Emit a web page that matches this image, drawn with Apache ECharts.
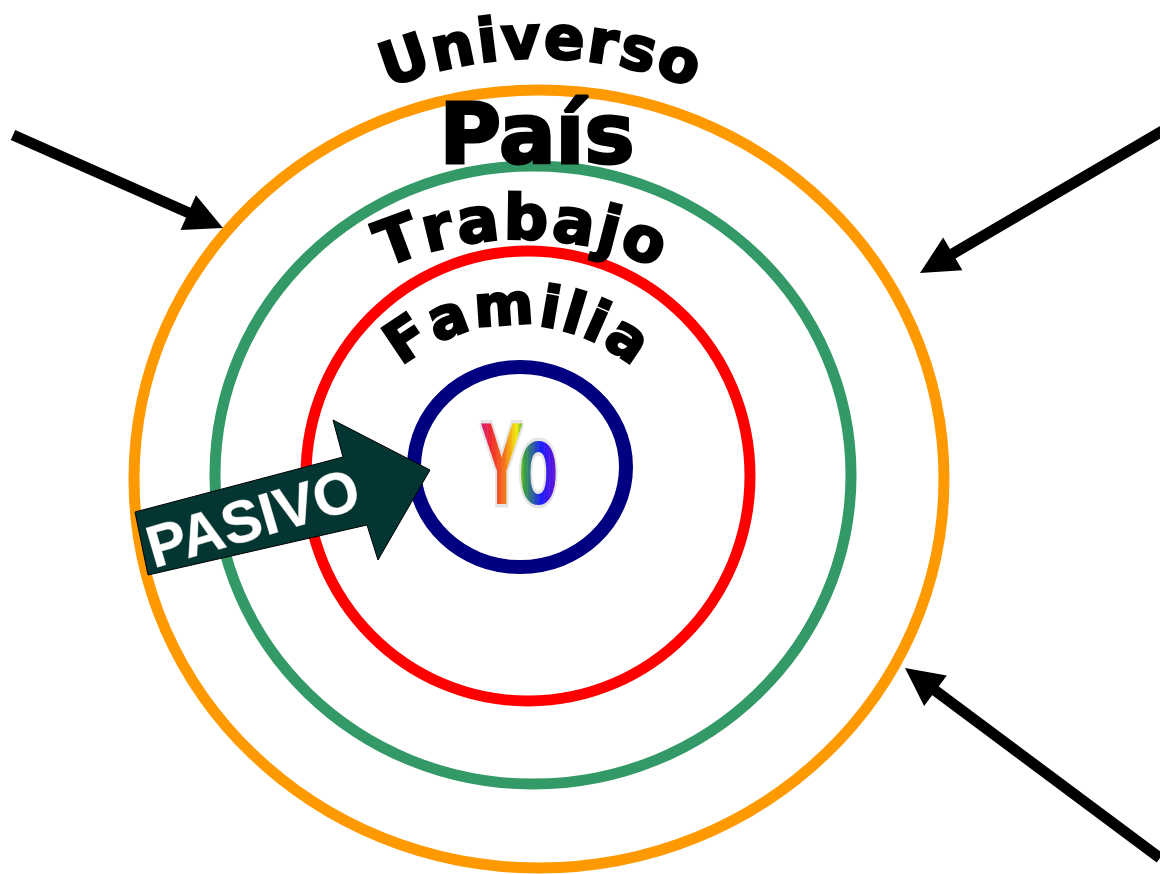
<!DOCTYPE html>
<html>
<head>
<meta charset="utf-8">
<title>Yo - Universo</title>
<script src="https://cdn.jsdelivr.net/npm/echarts@6/dist/echarts.min.js"></script>
<style>
  html, body { margin: 0; padding: 0; background: #fff; }
  #chart { width: 1160px; height: 874px; }
</style>
</head>
<body>
<div id="chart"></div>
<script>
// textos del diagrama
var ringNames = ['Universo', 'País', 'Trabajo', 'Familia'];
var centerName = 'Yo';
var arrowName = 'PASIVO';

var FONT = '"DejaVu Sans", "Liberation Sans", sans-serif';
var YO_FONT = 'bold 116px "Liberation Sans", sans-serif';
var measureCtx = document.createElement('canvas').getContext('2d');

// letras sobre un arco (cx, cy = centro del arco, r = radio de la linea base)
function arcLetters(text, cx, cy, r, fontSize, spacing) {
  measureCtx.font = 'bold ' + fontSize + 'px ' + FONT;
  var widths = [], total = 0;
  for (var i = 0; i < text.length; i++) {
    var w = measureCtx.measureText(text[i]).width;
    widths.push(w);
    total += w;
  }
  total += spacing * (text.length - 1);
  var s = -total / 2;
  var rr = r + fontSize * 0.34;
  var els = [];
  for (var i = 0; i < text.length; i++) {
    var mid = s + widths[i] / 2;
    var ang = mid / r;
    els.push({
      type: 'text',
      x: cx + rr * Math.sin(ang),
      y: cy - rr * Math.cos(ang),
      rotation: -ang,
      z: 20,
      style: {
        text: text[i],
        font: 'bold ' + fontSize + 'px ' + FONT,
        fill: '#000',
        stroke: '#000',
        lineWidth: 2.5,
        lineJoin: 'round',
        align: 'center', textAlign: 'center',
        verticalAlign: 'middle', textVerticalAlign: 'middle'
      }
    });
    s += widths[i] + spacing;
  }
  return els;
}

// flecha negra
function blackArrow(tail, tip) {
  var dx = tip[0] - tail[0], dy = tip[1] - tail[1];
  var len = Math.sqrt(dx * dx + dy * dy);
  var ux = dx / len, uy = dy / len;
  var headLen = 38, half = 19;
  var bx = tip[0] - ux * headLen, by = tip[1] - uy * headLen;
  return [
    {
      type: 'line', z: 15,
      shape: { x1: tail[0], y1: tail[1], x2: bx + ux * 4, y2: by + uy * 4 },
      style: { stroke: '#000', lineWidth: 11, lineCap: 'butt' }
    },
    {
      type: 'polygon', z: 15,
      shape: { points: [tip, [bx - uy * half, by + ux * half], [bx + uy * half, by - ux * half]] },
      style: { fill: '#000' }
    }
  ];
}

// colores del arco iris para "Yo"
var rainbow = [
  [0, [214, 22, 143]],
  [0.16, [240, 42, 42]],
  [0.32, [245, 117, 28]],
  [0.47, [242, 238, 12]],
  [0.56, [58, 166, 58]],
  [0.78, [26, 26, 255]],
  [1, [122, 16, 200]]
];
function rainbowAt(t) {
  for (var i = 1; i < rainbow.length; i++) {
    if (t <= rainbow[i][0]) {
      var a = rainbow[i - 1], b = rainbow[i];
      var k = (t - a[0]) / (b[0] - a[0]);
      var c = [0, 1, 2].map(function (j) { return Math.round(a[1][j] + (b[1][j] - a[1][j]) * k); });
      return 'rgb(' + c.join(',') + ')';
    }
  }
  return 'rgb(122,16,200)';
}

var chart = echarts.init(document.getElementById('chart'), null, { renderer: 'canvas' });

var elements = [];

// anillos
elements.push(
  { type: 'ellipse', z: 5, shape: { cx: 539, cy: 479, rx: 405, ry: 389 }, style: { fill: null, stroke: '#FF9900', lineWidth: 11 } },
  { type: 'ellipse', z: 5, shape: { cx: 533, cy: 475, rx: 318, ry: 309 }, style: { fill: null, stroke: '#339966', lineWidth: 11 } },
  { type: 'ellipse', z: 5, shape: { cx: 528, cy: 476, rx: 222, ry: 225 }, style: { fill: null, stroke: '#FF0000', lineWidth: 11 } },
  { type: 'ellipse', z: 5, shape: { cx: 520, cy: 467, rx: 106, ry: 100 }, style: { fill: null, stroke: '#000080', lineWidth: 14 } }
);

// nombres de los anillos
elements = elements.concat(arcLetters(ringNames[0], 540, 463, 400, 60, 1.5));
elements.push({
  type: 'text', x: 537, y: 183, z: 20,
  style: {
    text: ringNames[1],
    font: 'bold 84px ' + FONT,
    fill: '#000', stroke: '#000', lineWidth: 3, lineJoin: 'round',
    align: 'center', textAlign: 'center',
    verticalAlign: 'bottom', textVerticalAlign: 'bottom'
  }
});
elements = elements.concat(arcLetters(ringNames[2], 521, 574, 330, 62, 2));
elements = elements.concat(arcLetters(ringNames[3], 517, 504, 175, 57, 2));

// flecha PASIVO
elements.push({
  type: 'polygon', z: 12,
  shape: { points: [[148, 575], [135, 512], [343, 457], [333, 420], [430, 470], [378, 560], [367, 525]] },
  style: { fill: '#033633', stroke: '#000', lineWidth: 1 }
});
elements.push({
  type: 'text', x: 254, y: 522, z: 13, rotation: 0.285,
  style: {
    text: arrowName,
    font: 'bold 59px "Liberation Sans", sans-serif',
    fill: '#fff', stroke: '#8a9a98', lineWidth: 1,
    align: 'center', textAlign: 'center',
    verticalAlign: 'middle', textVerticalAlign: 'middle'
  }
});

// flechas exteriores
elements = elements.concat(blackArrow([13, 135], [223, 228]));
elements = elements.concat(blackArrow([1164, 130], [920, 273]));
elements = elements.concat(blackArrow([1160, 858], [905, 668]));

chart.setOption({
  backgroundColor: '#fff',
  animation: false,
  graphic: { elements: elements }
});

// "Yo" con relleno arco iris: franjas verticales recortadas del mismo texto
var zr = chart.getZr();
var yoGroup = new echarts.graphic.Group({ x: 519, y: 472, scaleX: 0.56 });
yoGroup.add(new echarts.graphic.Text({
  z: 30,
  style: {
    text: centerName, font: YO_FONT,
    fill: 'none', stroke: '#e4e4e4', lineWidth: 7, lineJoin: 'round',
    align: 'center', verticalAlign: 'middle'
  }
}));
measureCtx.font = YO_FONT;
var yoW = measureCtx.measureText(centerName).width;
var nBands = 48;
var x0 = -yoW / 2 - 2, bandW = (yoW + 4) / nBands;
for (var b = 0; b < nBands; b++) {
  var band = new echarts.graphic.Group();
  band.setClipPath(new echarts.graphic.Rect({
    shape: { x: x0 + b * bandW, y: -90, width: bandW + 0.8, height: 180 }
  }));
  band.add(new echarts.graphic.Text({
    z: 31,
    style: {
      text: centerName, font: YO_FONT,
      fill: rainbowAt((b + 0.5) / nBands),
      align: 'center', verticalAlign: 'middle'
    }
  }));
  yoGroup.add(band);
}
zr.add(yoGroup);
</script>
</body>
</html>
